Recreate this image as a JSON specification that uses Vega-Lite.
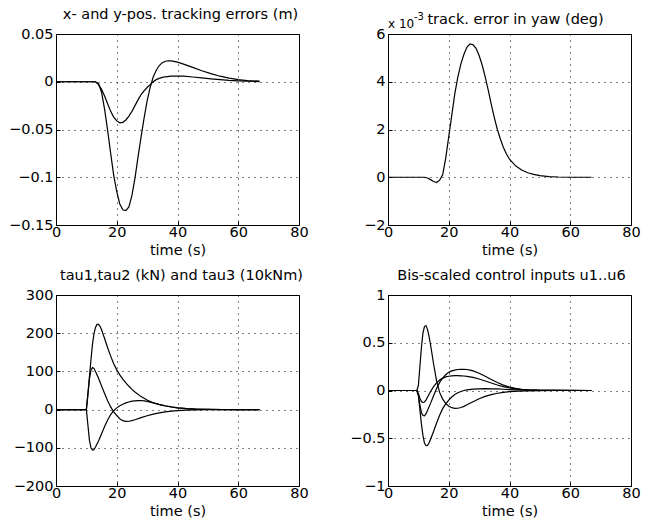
{
  "$schema": "https://vega.github.io/schema/vega-lite/v6.json",
  "padding": {"left": 8, "top": 6, "right": 5, "bottom": 5},
  "background": "white",
  "config": {
    "font": "DejaVu Sans",
    "view": {"stroke": "black", "strokeWidth": 1},
    "style": {"guide-title": {"fontWeight": "normal"}, "group-title": {"fontWeight": "normal"}},
    "axis": {
      "domainColor": "black",
      "grid": true,
      "gridColor": "black",
      "gridDash": [1, 5],
      "gridOpacity": 1,
      "gridWidth": 1,
      "ticks": true,
      "tickColor": "black",
      "tickSize": -4,
      "labelColor": "black",
      "labelFontSize": 14.5,
      "labelFont": "DejaVu Sans",
      "labelFlush": false,
      "labelOverlap": false,
      "titleFont": "DejaVu Sans",
      "titleFontSize": 14.5,
      "titleFontWeight": "normal",
      "titleColor": "black"
    },
    "axisX": {"labelPadding": 4, "titlePadding": 5, "titleFontWeight": "normal"},
    "axisY": {"labelPadding": 7},
    "title": {"font": "DejaVu Sans", "fontSize": 14.5, "fontWeight": "normal", "color": "black", "offset": 0, "anchor": "middle", "frame": "group", "baseline": "alphabetic"},
    "line": {"color": "black", "strokeWidth": 1.2}
  },
  "datasets": {
    "pos": [
      {"t":0,"v":0,"s":"a"},{"t":13,"v":0,"s":"a"},{"t":14,"v":-0.002,"s":"a"},{"t":15,"v":-0.011,"s":"a"},{"t":16,"v":-0.029,"s":"a"},{"t":17,"v":-0.051,"s":"a"},{"t":18,"v":-0.075,"s":"a"},{"t":19,"v":-0.098,"s":"a"},{"t":20,"v":-0.115,"s":"a"},{"t":21,"v":-0.128,"s":"a"},{"t":22,"v":-0.134,"s":"a"},{"t":23,"v":-0.135,"s":"a"},{"t":24,"v":-0.131,"s":"a"},{"t":25,"v":-0.119,"s":"a"},{"t":26,"v":-0.101,"s":"a"},{"t":27,"v":-0.079,"s":"a"},{"t":28,"v":-0.058,"s":"a"},{"t":29,"v":-0.038,"s":"a"},{"t":30,"v":-0.02,"s":"a"},{"t":31,"v":-0.006,"s":"a"},{"t":32,"v":0.005,"s":"a"},{"t":33,"v":0.012,"s":"a"},{"t":34,"v":0.017,"s":"a"},{"t":35,"v":0.02,"s":"a"},{"t":36,"v":0.0215,"s":"a"},{"t":37,"v":0.022,"s":"a"},{"t":38,"v":0.0218,"s":"a"},{"t":40,"v":0.0205,"s":"a"},{"t":42,"v":0.0185,"s":"a"},{"t":45,"v":0.015,"s":"a"},{"t":48,"v":0.0115,"s":"a"},{"t":51,"v":0.0085,"s":"a"},{"t":54,"v":0.0058,"s":"a"},{"t":57,"v":0.0038,"s":"a"},{"t":60,"v":0.0022,"s":"a"},{"t":63,"v":0.0012,"s":"a"},{"t":67,"v":0.0006,"s":"a"},
      {"t":0,"v":0,"s":"b"},{"t":13,"v":0,"s":"b"},{"t":14,"v":-0.003,"s":"b"},{"t":15,"v":-0.008,"s":"b"},{"t":16,"v":-0.015,"s":"b"},{"t":17,"v":-0.023,"s":"b"},{"t":18,"v":-0.031,"s":"b"},{"t":19,"v":-0.037,"s":"b"},{"t":20,"v":-0.041,"s":"b"},{"t":21,"v":-0.043,"s":"b"},{"t":22,"v":-0.0425,"s":"b"},{"t":23,"v":-0.04,"s":"b"},{"t":24,"v":-0.036,"s":"b"},{"t":25,"v":-0.031,"s":"b"},{"t":26,"v":-0.025,"s":"b"},{"t":27,"v":-0.019,"s":"b"},{"t":28,"v":-0.0135,"s":"b"},{"t":29,"v":-0.0095,"s":"b"},{"t":30,"v":-0.006,"s":"b"},{"t":31,"v":-0.003,"s":"b"},{"t":32,"v":0,"s":"b"},{"t":33,"v":0.0022,"s":"b"},{"t":34,"v":0.0035,"s":"b"},{"t":35,"v":0.0045,"s":"b"},{"t":36,"v":0.0052,"s":"b"},{"t":38,"v":0.0058,"s":"b"},{"t":40,"v":0.006,"s":"b"},{"t":42,"v":0.0058,"s":"b"},{"t":45,"v":0.005,"s":"b"},{"t":48,"v":0.0041,"s":"b"},{"t":51,"v":0.0031,"s":"b"},{"t":54,"v":0.0022,"s":"b"},{"t":57,"v":0.0014,"s":"b"},{"t":60,"v":0.0009,"s":"b"},{"t":63,"v":0.0005,"s":"b"},{"t":67,"v":0.0002,"s":"b"}
    ],
    "yaw": [
      {"t":0,"v":0},{"t":12,"v":0},{"t":13,"v":-0.03},{"t":14,"v":-0.1},{"t":15,"v":-0.18},{"t":16,"v":-0.22},{"t":17,"v":-0.12},{"t":18,"v":0.1},{"t":19,"v":0.8},{"t":20,"v":1.7},{"t":21,"v":2.6},{"t":22,"v":3.5},{"t":23,"v":4.2},{"t":24,"v":4.75},{"t":25,"v":5.15},{"t":26,"v":5.45},{"t":27,"v":5.58},{"t":28,"v":5.55},{"t":29,"v":5.4},{"t":30,"v":5.1},{"t":31,"v":4.7},{"t":32,"v":4.2},{"t":33,"v":3.65},{"t":34,"v":3.05},{"t":35,"v":2.5},{"t":36,"v":2.0},{"t":37,"v":1.6},{"t":38,"v":1.25},{"t":39,"v":0.97},{"t":40,"v":0.76},{"t":42,"v":0.48},{"t":44,"v":0.3},{"t":46,"v":0.19},{"t":48,"v":0.12},{"t":50,"v":0.07},{"t":53,"v":0.03},{"t":56,"v":0.01},{"t":60,"v":0},{"t":67,"v":0}
    ],
    "tau": [
      {"t":0,"v":0,"s":"a"},{"t":10,"v":0,"s":"a"},{"t":10.5,"v":40,"s":"a"},{"t":11,"v":85,"s":"a"},{"t":11.5,"v":130,"s":"a"},{"t":12,"v":170,"s":"a"},{"t":12.5,"v":198,"s":"a"},{"t":13,"v":215,"s":"a"},{"t":13.5,"v":223,"s":"a"},{"t":14,"v":223,"s":"a"},{"t":14.5,"v":218,"s":"a"},{"t":15,"v":209,"s":"a"},{"t":16,"v":186,"s":"a"},{"t":17,"v":162,"s":"a"},{"t":18,"v":140,"s":"a"},{"t":19,"v":120,"s":"a"},{"t":20,"v":104,"s":"a"},{"t":21,"v":91,"s":"a"},{"t":22,"v":80,"s":"a"},{"t":23,"v":70,"s":"a"},{"t":24,"v":61,"s":"a"},{"t":25,"v":53,"s":"a"},{"t":26,"v":46,"s":"a"},{"t":28,"v":34,"s":"a"},{"t":30,"v":25,"s":"a"},{"t":32,"v":18,"s":"a"},{"t":34,"v":13,"s":"a"},{"t":36,"v":9.5,"s":"a"},{"t":38,"v":6.8,"s":"a"},{"t":40,"v":4.7,"s":"a"},{"t":43,"v":2.7,"s":"a"},{"t":46,"v":1.5,"s":"a"},{"t":50,"v":0.6,"s":"a"},{"t":55,"v":0.2,"s":"a"},{"t":60,"v":0,"s":"a"},{"t":67,"v":0,"s":"a"},
      {"t":0,"v":0,"s":"b"},{"t":10,"v":0,"s":"b"},{"t":10.5,"v":40,"s":"b"},{"t":11,"v":80,"s":"b"},{"t":11.5,"v":103,"s":"b"},{"t":12,"v":110,"s":"b"},{"t":12.5,"v":108,"s":"b"},{"t":13,"v":100,"s":"b"},{"t":14,"v":82,"s":"b"},{"t":15,"v":62,"s":"b"},{"t":16,"v":42,"s":"b"},{"t":17,"v":23,"s":"b"},{"t":18,"v":7,"s":"b"},{"t":19,"v":-6,"s":"b"},{"t":20,"v":-16,"s":"b"},{"t":21,"v":-24,"s":"b"},{"t":22,"v":-29,"s":"b"},{"t":23,"v":-31,"s":"b"},{"t":24,"v":-30.5,"s":"b"},{"t":25,"v":-29,"s":"b"},{"t":26,"v":-26.5,"s":"b"},{"t":28,"v":-21,"s":"b"},{"t":30,"v":-16,"s":"b"},{"t":32,"v":-12,"s":"b"},{"t":34,"v":-8.5,"s":"b"},{"t":36,"v":-6,"s":"b"},{"t":38,"v":-4,"s":"b"},{"t":40,"v":-2.7,"s":"b"},{"t":43,"v":-1.5,"s":"b"},{"t":46,"v":-0.8,"s":"b"},{"t":50,"v":-0.3,"s":"b"},{"t":55,"v":0,"s":"b"},{"t":67,"v":0,"s":"b"},
      {"t":0,"v":0,"s":"c"},{"t":10,"v":0,"s":"c"},{"t":10.5,"v":-40,"s":"c"},{"t":11,"v":-80,"s":"c"},{"t":11.5,"v":-100,"s":"c"},{"t":12,"v":-106,"s":"c"},{"t":12.5,"v":-105,"s":"c"},{"t":13,"v":-98,"s":"c"},{"t":14,"v":-82,"s":"c"},{"t":15,"v":-63,"s":"c"},{"t":16,"v":-44,"s":"c"},{"t":17,"v":-27,"s":"c"},{"t":18,"v":-13,"s":"c"},{"t":19,"v":-3,"s":"c"},{"t":20,"v":4.5,"s":"c"},{"t":21,"v":10,"s":"c"},{"t":22,"v":14,"s":"c"},{"t":23,"v":17.5,"s":"c"},{"t":24,"v":20,"s":"c"},{"t":25,"v":22,"s":"c"},{"t":26,"v":23,"s":"c"},{"t":27,"v":23.7,"s":"c"},{"t":28,"v":23.8,"s":"c"},{"t":29,"v":23,"s":"c"},{"t":30,"v":21.5,"s":"c"},{"t":32,"v":17.5,"s":"c"},{"t":34,"v":13.5,"s":"c"},{"t":36,"v":10,"s":"c"},{"t":38,"v":7,"s":"c"},{"t":40,"v":4.7,"s":"c"},{"t":43,"v":2.5,"s":"c"},{"t":46,"v":1.3,"s":"c"},{"t":50,"v":0.5,"s":"c"},{"t":55,"v":0.1,"s":"c"},{"t":67,"v":0,"s":"c"}
    ],
    "u": [
      {"t":0,"v":0,"s":"p"},{"t":9.5,"v":0,"s":"p"},{"t":10,"v":0.05,"s":"p"},{"t":10.5,"v":0.25,"s":"p"},{"t":11,"v":0.45,"s":"p"},{"t":11.5,"v":0.6,"s":"p"},{"t":12,"v":0.67,"s":"p"},{"t":12.5,"v":0.68,"s":"p"},{"t":13,"v":0.64,"s":"p"},{"t":13.5,"v":0.57,"s":"p"},{"t":14,"v":0.48,"s":"p"},{"t":15,"v":0.28,"s":"p"},{"t":16,"v":0.1,"s":"p"},{"t":17,"v":-0.02,"s":"p"},{"t":18,"v":-0.09,"s":"p"},{"t":19,"v":-0.135,"s":"p"},{"t":20,"v":-0.165,"s":"p"},{"t":21,"v":-0.18,"s":"p"},{"t":22,"v":-0.187,"s":"p"},{"t":23,"v":-0.186,"s":"p"},{"t":24,"v":-0.178,"s":"p"},{"t":25,"v":-0.166,"s":"p"},{"t":26,"v":-0.15,"s":"p"},{"t":28,"v":-0.117,"s":"p"},{"t":30,"v":-0.087,"s":"p"},{"t":32,"v":-0.062,"s":"p"},{"t":34,"v":-0.043,"s":"p"},{"t":36,"v":-0.029,"s":"p"},{"t":38,"v":-0.019,"s":"p"},{"t":40,"v":-0.012,"s":"p"},{"t":43,"v":-0.006,"s":"p"},{"t":46,"v":-0.003,"s":"p"},{"t":50,"v":-0.001,"s":"p"},{"t":55,"v":0,"s":"p"},{"t":67,"v":0,"s":"p"},
      {"t":0,"v":0,"s":"q"},{"t":9.5,"v":0,"s":"q"},{"t":10,"v":-0.05,"s":"q"},{"t":10.5,"v":-0.2,"s":"q"},{"t":11,"v":-0.35,"s":"q"},{"t":11.5,"v":-0.47,"s":"q"},{"t":12,"v":-0.55,"s":"q"},{"t":12.5,"v":-0.578,"s":"q"},{"t":13,"v":-0.575,"s":"q"},{"t":13.5,"v":-0.55,"s":"q"},{"t":14,"v":-0.51,"s":"q"},{"t":15,"v":-0.43,"s":"q"},{"t":16,"v":-0.34,"s":"q"},{"t":17,"v":-0.26,"s":"q"},{"t":18,"v":-0.19,"s":"q"},{"t":19,"v":-0.14,"s":"q"},{"t":20,"v":-0.1,"s":"q"},{"t":21,"v":-0.068,"s":"q"},{"t":22,"v":-0.043,"s":"q"},{"t":23,"v":-0.024,"s":"q"},{"t":24,"v":-0.01,"s":"q"},{"t":25,"v":0,"s":"q"},{"t":26,"v":0.007,"s":"q"},{"t":28,"v":0.015,"s":"q"},{"t":30,"v":0.018,"s":"q"},{"t":32,"v":0.019,"s":"q"},{"t":34,"v":0.018,"s":"q"},{"t":36,"v":0.016,"s":"q"},{"t":38,"v":0.013,"s":"q"},{"t":40,"v":0.01,"s":"q"},{"t":43,"v":0.006,"s":"q"},{"t":46,"v":0.004,"s":"q"},{"t":50,"v":0.002,"s":"q"},{"t":55,"v":0.001,"s":"q"},{"t":67,"v":0,"s":"q"},
      {"t":0,"v":0,"s":"r"},{"t":9.5,"v":0,"s":"r"},{"t":10,"v":-0.05,"s":"r"},{"t":10.5,"v":-0.15,"s":"r"},{"t":11,"v":-0.23,"s":"r"},{"t":11.5,"v":-0.262,"s":"r"},{"t":12,"v":-0.265,"s":"r"},{"t":12.5,"v":-0.245,"s":"r"},{"t":13,"v":-0.21,"s":"r"},{"t":14,"v":-0.135,"s":"r"},{"t":15,"v":-0.055,"s":"r"},{"t":16,"v":0.02,"s":"r"},{"t":17,"v":0.085,"s":"r"},{"t":18,"v":0.13,"s":"r"},{"t":19,"v":0.165,"s":"r"},{"t":20,"v":0.19,"s":"r"},{"t":21,"v":0.205,"s":"r"},{"t":22,"v":0.214,"s":"r"},{"t":23,"v":0.22,"s":"r"},{"t":24,"v":0.222,"s":"r"},{"t":25,"v":0.222,"s":"r"},{"t":26,"v":0.22,"s":"r"},{"t":27,"v":0.214,"s":"r"},{"t":28,"v":0.205,"s":"r"},{"t":30,"v":0.18,"s":"r"},{"t":32,"v":0.15,"s":"r"},{"t":34,"v":0.115,"s":"r"},{"t":36,"v":0.083,"s":"r"},{"t":38,"v":0.056,"s":"r"},{"t":40,"v":0.036,"s":"r"},{"t":42,"v":0.022,"s":"r"},{"t":44,"v":0.013,"s":"r"},{"t":46,"v":0.008,"s":"r"},{"t":50,"v":0.003,"s":"r"},{"t":55,"v":0.001,"s":"r"},{"t":67,"v":0,"s":"r"},
      {"t":0,"v":0,"s":"w"},{"t":9.5,"v":0,"s":"w"},{"t":10,"v":-0.03,"s":"w"},{"t":10.5,"v":-0.08,"s":"w"},{"t":11,"v":-0.115,"s":"w"},{"t":11.5,"v":-0.125,"s":"w"},{"t":12,"v":-0.12,"s":"w"},{"t":12.5,"v":-0.1,"s":"w"},{"t":13,"v":-0.07,"s":"w"},{"t":14,"v":-0.01,"s":"w"},{"t":15,"v":0.04,"s":"w"},{"t":16,"v":0.08,"s":"w"},{"t":17,"v":0.11,"s":"w"},{"t":18,"v":0.13,"s":"w"},{"t":19,"v":0.142,"s":"w"},{"t":20,"v":0.149,"s":"w"},{"t":21,"v":0.153,"s":"w"},{"t":22,"v":0.155,"s":"w"},{"t":23,"v":0.155,"s":"w"},{"t":24,"v":0.154,"s":"w"},{"t":25,"v":0.152,"s":"w"},{"t":26,"v":0.148,"s":"w"},{"t":28,"v":0.137,"s":"w"},{"t":30,"v":0.12,"s":"w"},{"t":32,"v":0.1,"s":"w"},{"t":34,"v":0.078,"s":"w"},{"t":36,"v":0.058,"s":"w"},{"t":38,"v":0.04,"s":"w"},{"t":40,"v":0.027,"s":"w"},{"t":42,"v":0.017,"s":"w"},{"t":44,"v":0.01,"s":"w"},{"t":46,"v":0.006,"s":"w"},{"t":50,"v":0.002,"s":"w"},{"t":55,"v":0.001,"s":"w"},{"t":67,"v":0,"s":"w"}
    ]
  },
  "columns": 2,
  "spacing": {"column": 89, "row": 70},
  "bounds": "flush",
  "concat": [
    {
      "width": 243, "height": 191,
      "title": {"text": "x- and y-pos. tracking errors (m)", "dx": 3},
      "data": {"name": "pos"},
      "mark": {"type": "line"},
      "encoding": {
        "x": {"field": "t", "type": "quantitative", "scale": {"domain": [0, 80], "nice": false}, "axis": {"values": [0, 20, 40, 60, 80], "title": "time (s)", "titleFontWeight": "normal", "labelExpr": "'' + datum.value"}},
        "y": {"field": "v", "type": "quantitative", "scale": {"domain": [-0.15, 0.05], "nice": false, "zero": false}, "axis": {"values": [-0.15, -0.1, -0.05, 0, 0.05], "title": null, "labelExpr": "replace('' + datum.value, '-', '−')"}},
        "detail": {"field": "s"}
      }
    },
    {
      "width": 243, "height": 191,
      "title": {"text": "track. error in yaw (deg)", "dx": 6, "offset": -15},
      "layer": [
        {
          "data": {"name": "yaw"},
          "mark": {"type": "line"},
          "encoding": {
            "x": {"field": "t", "type": "quantitative", "scale": {"domain": [0, 80], "nice": false}, "axis": {"values": [0, 20, 40, 60, 80], "title": "time (s)", "titleFontWeight": "normal", "labelExpr": "'' + datum.value"}},
            "y": {"field": "v", "type": "quantitative", "scale": {"domain": [-2, 6], "nice": false, "zero": false}, "axis": {"values": [-2, 0, 2, 4, 6], "title": null, "labelExpr": "replace('' + datum.value, '-', '−')"}}
          }
        },
        {
          "data": {"values": [{"t": 0, "v": 6, "txt": "x 10"}]},
          "mark": {"type": "text", "align": "left", "baseline": "alphabetic", "dy": -6, "fontSize": 12, "color": "black"},
          "encoding": {"x": {"field": "t", "type": "quantitative"}, "y": {"field": "v", "type": "quantitative"}, "text": {"field": "txt"}}
        },
        {
          "data": {"values": [{"t": 0, "v": 6, "txt": "-3"}]},
          "mark": {"type": "text", "align": "left", "baseline": "alphabetic", "dx": 26, "dy": -14, "fontSize": 10, "color": "black"},
          "encoding": {"x": {"field": "t", "type": "quantitative"}, "y": {"field": "v", "type": "quantitative"}, "text": {"field": "txt"}}
        }
      ]
    },
    {
      "width": 243, "height": 191,
      "title": {"text": "tau1,tau2 (kN) and tau3 (10kNm)", "dx": 4},
      "data": {"name": "tau"},
      "mark": {"type": "line"},
      "encoding": {
        "x": {"field": "t", "type": "quantitative", "scale": {"domain": [0, 80], "nice": false}, "axis": {"values": [0, 20, 40, 60, 80], "title": "time (s)", "titleFontWeight": "normal", "labelExpr": "'' + datum.value"}},
        "y": {"field": "v", "type": "quantitative", "scale": {"domain": [-200, 300], "nice": false, "zero": false}, "axis": {"values": [-200, -100, 0, 100, 200, 300], "title": null, "labelExpr": "replace('' + datum.value, '-', '−')"}},
        "detail": {"field": "s"}
      }
    },
    {
      "width": 243, "height": 191,
      "title": {"text": "Bis-scaled control inputs u1..u6", "dx": 2},
      "data": {"name": "u"},
      "mark": {"type": "line"},
      "encoding": {
        "x": {"field": "t", "type": "quantitative", "scale": {"domain": [0, 80], "nice": false}, "axis": {"values": [0, 20, 40, 60, 80], "title": "time (s)", "titleFontWeight": "normal", "labelExpr": "'' + datum.value"}},
        "y": {"field": "v", "type": "quantitative", "scale": {"domain": [-1, 1], "nice": false, "zero": false}, "axis": {"values": [-1, -0.5, 0, 0.5, 1], "title": null, "labelExpr": "replace('' + datum.value, '-', '−')"}},
        "detail": {"field": "s"}
      }
    }
  ]
}
